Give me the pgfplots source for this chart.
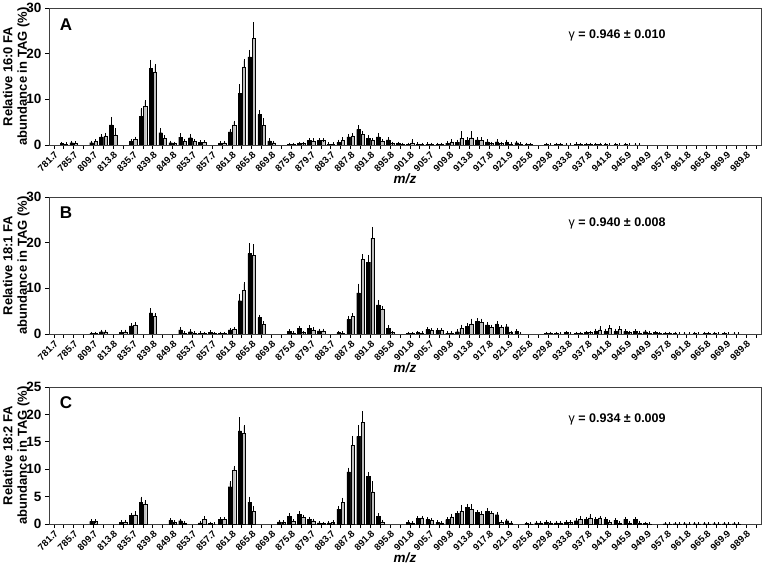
\documentclass[border=0pt]{standalone}
\usepackage{fontspec}
\setmainfont{Liberation Sans}
\usepackage{pgfplots}
\usepackage{pgfplotstable}
\pgfplotsset{compat=1.18}

% x = category index (0..71), a/ea = black bars, b/eb = grey bars
\pgfplotstableread{
x a ea b eb
1 0.3 0.1 0.2 0.05
2 0.5 0.1 0.4 0.1
4 0.5 0.1 0.8 0.15
5 1.8 0.2 2.0 0.3
6 4.4 1.4 2.2 1.2
8 0.8 0.2 1.2 0.3
9 6.3 1.5 8.4 1.1
10 16.8 1.5 16.0 1.4
11 2.7 0.6 1.5 0.3
12 0.5 0.1 0.3 0.1
13 1.7 0.5 0.8 0.2
14 1.6 0.5 0.8 0.2
15 0.6 0.1 0.6 0.1
17 0.4 0.1 0.5 0.1
18 2.9 0.3 4.4 0.6
19 11.3 1.7 17.1 1.4
20 19.3 1.2 23.3 3.2
21 6.7 0.6 4.3 1.2
22 0.9 0.2 0.5 0.1
24 0.1 0.05 0.1 0.05
25 0.3 0.1 0.3 0.1
26 1.0 0.2 0.9 0.2
27 1.0 0.1 1.0 0.1
28 0.2 0.05 0.2 0.05
29 0.6 0.2 1.0 0.4
30 1.8 0.3 2.0 0.2
31 3.4 0.6 2.4 0.4
32 1.5 0.3 1.0 0.2
33 1.8 0.4 0.8 0.2
34 1.1 0.3 0.3 0.1
35 0.3 0.1 0.1 0.05
36 0.1 0.05 0.4 0.5
37 0.2 0.05 0.1 0.05
38 0.2 0.05 0.1 0.05
39 0.1 0.05 0.1 0.05
40 0.4 0.1 0.7 0.2
41 0.6 0.2 1.5 1.2
42 1.0 0.3 1.6 1.1
43 1.1 0.2 1.0 0.4
44 0.7 0.2 0.3 0.1
45 0.7 0.2 0.3 0.1
46 0.6 0.2 0.2 0.05
47 0.5 0.1 0.2 0.05
48 0.1 0.05 0.1 0.05
50 0.1 0.05 0.05 0.02
51 0.1 0.05 0.1 0.05
52 0.05 0.02 0.05 0.02
53 0.15 0.05 0.1 0.05
54 0.1 0.05 0.1 0.05
55 0.1 0.05 0.1 0.05
56 0.1 0.05 0.05 0.02
57 0.1 0.05 0.05 0.02
58 0.1 0.05 0.05 0.02
59 0.05 0.02 0.0 0.0
}\dataA

\pgfplotstableread{
x a ea b eb
4 0.1 0.05 0.1 0.05
5 0.5 0.1 0.5 0.1
7 0.4 0.1 0.5 0.1
8 1.8 0.2 2.0 0.2
10 4.6 0.7 3.9 0.4
13 0.9 0.2 0.2 0.05
14 0.5 0.2 0.2 0.05
15 0.2 0.05 0.1 0.05
16 0.4 0.1 0.1 0.05
17 0.1 0.05 0.1 0.05
18 0.9 0.1 1.1 0.1
19 7.3 1.2 9.6 1.4
20 17.6 1.9 17.2 2.1
21 3.6 0.3 2.1 0.3
24 0.6 0.1 0.2 0.05
25 1.2 0.3 0.3 0.1
26 1.3 0.3 0.9 0.2
27 0.7 0.1 0.7 0.1
29 0.3 0.05 0.2 0.05
30 3.2 0.4 3.9 0.3
31 9.0 1.7 16.4 0.7
32 15.7 1.3 21.0 2.1
33 6.4 0.6 5.4 0.4
34 1.3 0.3 0.3 0.1
36 0.1 0.05 0.1 0.05
37 0.3 0.05 0.2 0.05
38 1.0 0.1 0.8 0.1
39 0.8 0.1 0.8 0.1
40 0.2 0.05 0.2 0.05
41 0.5 0.2 1.3 0.4
42 1.7 0.3 2.2 0.8
43 2.8 0.3 2.6 0.4
44 2.0 0.2 1.5 0.2
45 2.1 0.3 1.4 0.2
46 1.6 0.2 0.3 0.1
47 0.6 0.1 0.0 0.0
50 0.1 0.05 0.1 0.05
51 0.1 0.05 0.05 0.02
52 0.3 0.05 0.05 0.02
53 0.1 0.05 0.1 0.05
54 0.3 0.05 0.3 0.05
55 0.6 0.2 0.9 0.4
56 0.6 0.2 1.2 0.4
57 0.6 0.2 1.0 0.4
58 0.6 0.1 0.3 0.1
59 0.6 0.1 0.2 0.05
60 0.5 0.1 0.2 0.05
61 0.3 0.05 0.1 0.05
62 0.1 0.05 0.1 0.05
63 0.1 0.05 0.05 0.02
64 0.05 0.02 0.05 0.02
65 0.1 0.05 0.05 0.02
66 0.1 0.05 0.1 0.05
67 0.1 0.05 0.05 0.02
68 0.1 0.05 0.05 0.02
69 0.05 0.02 0.05 0.02
}\dataB

\pgfplotstableread{
x a ea b eb
4 0.5 0.05 0.5 0.05
7 0.3 0.05 0.4 0.05
8 1.6 0.2 1.7 0.4
9 3.9 0.8 3.6 0.4
12 0.7 0.1 0.3 0.05
13 0.6 0.1 0.2 0.05
15 0.2 0.05 0.8 0.3
16 0.1 0.05 0.0 0.0
17 0.8 0.1 0.9 0.1
18 6.8 0.7 9.8 0.5
19 17.0 2.2 16.6 1.2
20 4.0 0.7 2.3 0.7
23 0.4 0.05 0.3 0.05
24 1.4 0.3 0.5 0.1
25 1.8 0.2 1.2 0.2
26 0.9 0.1 0.6 0.1
27 0.2 0.05 0.1 0.05
28 0.2 0.05 0.3 0.05
29 2.7 0.3 3.9 0.6
30 9.5 0.5 14.4 1.4
31 16.0 1.7 18.5 1.8
32 8.7 0.5 5.9 1.6
33 1.4 0.3 0.4 0.1
36 0.3 0.05 0.2 0.05
37 1.0 0.1 1.1 0.1
38 0.8 0.1 0.7 0.1
39 0.3 0.05 0.2 0.05
40 0.8 0.1 1.3 0.3
41 1.9 0.2 2.4 0.8
42 3.1 0.3 2.7 0.6
43 2.1 0.2 1.8 0.2
44 2.3 0.3 1.9 0.2
45 1.7 0.2 0.3 0.1
46 0.6 0.1 0.2 0.05
48 0.1 0.05 0.05 0.02
49 0.2 0.05 0.2 0.05
50 0.3 0.05 0.2 0.05
51 0.2 0.05 0.2 0.05
52 0.3 0.05 0.3 0.05
53 0.6 0.2 0.8 0.4
54 0.8 0.2 1.1 0.4
55 0.9 0.1 1.1 0.1
56 0.9 0.1 0.3 0.1
57 0.7 0.1 0.2 0.05
58 0.9 0.1 0.2 0.05
59 0.8 0.1 0.2 0.05
60 0.1 0.05 0.05 0.02
62 0.05 0.02 0.05 0.02
63 0.05 0.02 0.05 0.02
64 0.05 0.02 0.05 0.02
65 0.05 0.02 0.05 0.02
66 0.05 0.02 0.05 0.02
67 0.05 0.02 0.05 0.02
68 0.05 0.02 0.05 0.02
69 0.05 0.02 0.05 0.02
}\dataC

\pgfplotsset{
  msplot/.style={
    scale only axis, width=712pt, height=137pt,
    xmin=-0.5, xmax=71.5, ymin=0,
    ybar=0.6pt, bar width=3.5pt,
    xtick={0,2,...,70},
    xticklabels={781.7,785.7,809.7,813.8,835.7,839.8,849.8,853.7,857.7,861.8,865.8,869.8,875.8,879.7,883.7,887.8,891.8,895.8,901.8,905.7,909.8,913.8,917.8,921.9,925.8,929.8,933.8,937.8,941.8,945.9,949.9,957.8,961.8,965.8,969.9,989.8},
    minor xtick={1,3,...,71},
    tick align=outside, tick pos=left,
    major tick length=4pt, minor tick length=4pt,
    tick style={black, line width=0.7pt},
    x tick label style={rotate=45, anchor=north east, font=\bfseries\fontsize{9.5}{9.5}\selectfont, inner sep=1pt},
    y tick label style={font=\bfseries\fontsize{13.5}{14}\selectfont},
    /pgf/number format/assume math mode=true,
    axis line style={black!75, line width=0.8pt},
    xlabel={\textbf{\textit{m/z}}},
    xlabel style={at={(axis description cs:0.5,-0.245)}, anchor=center, font=\fontsize{13.5}{14}\selectfont},
    ylabel style={at={(axis description cs:-0.046,0.5)}, anchor=center, align=center, font=\bfseries\fontsize{13}{14.5}\selectfont},
    error bars/y dir=plus, error bars/y explicit,
    error bars/error bar style={line width=0.6pt, black},
    error bars/error mark options={mark size=1.6pt, line width=0.6pt, black},
  },
  serA/.style={fill=black, draw=black, line width=0.3pt},
  serB/.style={fill=black!25, draw=black, line width=0.3pt},
}

\begin{document}
\begin{tikzpicture}
\useasboundingbox (0,0) rectangle (764pt,-564pt);

\begin{axis}[msplot, at={(49pt,-145pt)}, anchor=south west,
    ymax=30, ytick={0,10,20,30},
    ylabel={Relative 16:0 FA\\abundance in TAG (\%)}]
\addplot[serA] table[x=x, y=a, y error=ea] {\dataA};
\addplot[serB] table[x=x, y=b, y error=eb] {\dataA};
\node[font=\bfseries\fontsize{17}{17}\selectfont] at (rel axis cs:0.024,0.88) {A};
\node[font=\bfseries\fontsize{12.5}{13}\selectfont] at (rel axis cs:0.798,0.80) {{\mdseries γ} = 0.946 ± 0.010};
\end{axis}

\begin{axis}[msplot, at={(49pt,-334pt)}, anchor=south west,
    ymax=30, ytick={0,10,20,30},
    ylabel={Relative 18:1 FA\\abundance in TAG (\%)}]
\addplot[serA] table[x=x, y=a, y error=ea] {\dataB};
\addplot[serB] table[x=x, y=b, y error=eb] {\dataB};
\node[font=\bfseries\fontsize{17}{17}\selectfont] at (rel axis cs:0.024,0.885) {B};
\node[font=\bfseries\fontsize{12.5}{13}\selectfont] at (rel axis cs:0.798,0.81) {{\mdseries γ} = 0.940 ± 0.008};
\end{axis}

\begin{axis}[msplot, at={(49pt,-524pt)}, anchor=south west,
    ymax=25, ytick={0,5,10,15,20,25},
    ylabel={Relative 18:2 FA\\abundance in TAG (\%)}]
\addplot[serA] table[x=x, y=a, y error=ea] {\dataC};
\addplot[serB] table[x=x, y=b, y error=eb] {\dataC};
\node[font=\bfseries\fontsize{17}{17}\selectfont] at (rel axis cs:0.024,0.885) {C};
\node[font=\bfseries\fontsize{12.5}{13}\selectfont] at (rel axis cs:0.798,0.76) {{\mdseries γ} = 0.934 ± 0.009};
\end{axis}
\end{tikzpicture}
\end{document}
